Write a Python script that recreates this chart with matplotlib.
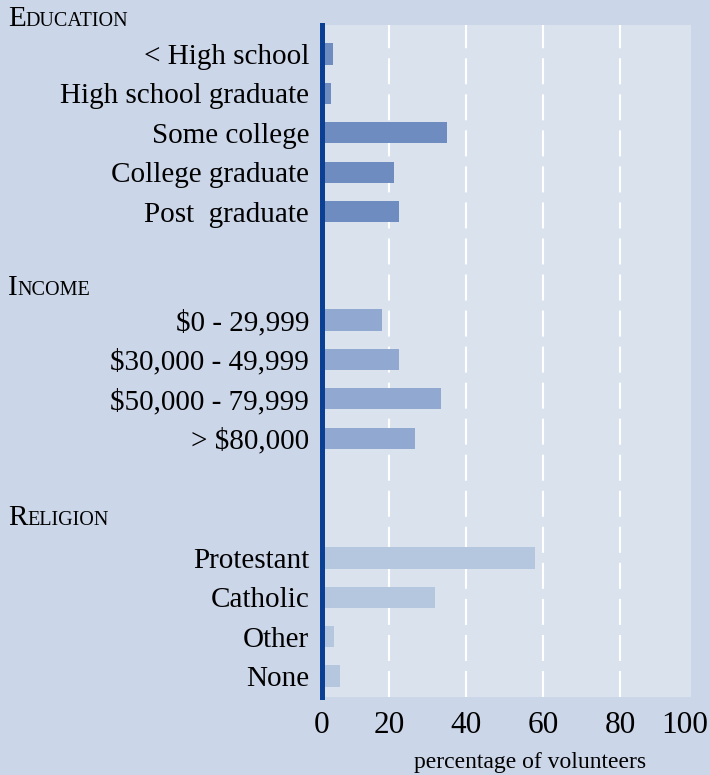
import matplotlib.pyplot as plt
import matplotlib.transforms as mtransforms
import numpy as np

# data
edu_labels = ['< High school', 'High school graduate', 'Some college', 'College graduate', 'Post  graduate']
edu_values = [5.4, 4.8, 35.0, 21.2, 22.5]
inc_labels = ['$0 - 29,999', '$30,000 - 49,999', '$50,000 - 79,999', '> $80,000']
inc_values = [18.1, 22.5, 33.4, 26.7]
rel_labels = ['Protestant', 'Catholic', 'Other', 'None']
rel_values = [57.9, 31.9, 5.6, 7.2]
headers = ['Education', 'Income', 'Religion']
grid_x = [20, 40, 60, 80]
tick_text = ['0', '20', '40', '60', '80', '100']

bg_out = '#ccd6e9'
bg_in = '#dae2ee'
colors = ['#6e8cc0', '#91a8d0', '#b5c6df']
spine_col = '#0b3f94'

plt.rcParams['font.family'] = ['Liberation Serif', 'DejaVu Serif']

fig = plt.figure(figsize=(7.1, 7.75), dpi=100, facecolor=bg_out)
ax = fig.add_axes([321.7 / 710, 78 / 775, 369 / 710, 672 / 775])
ax.set_facecolor(bg_in)

# y positions: one unit per row, gaps between groups
groups = [(edu_labels, edu_values), (inc_labels, inc_values), (rel_labels, rel_values)]
gaps = [0, 2.75, 3.04]
starts = []
ypos, ylabels = [], []
y = 0
for (labs, vals), g in zip(groups, gaps):
    y += g
    starts.append(y)
    ys = y + np.arange(len(labs))
    ypos.extend(ys)
    ylabels.extend(labs)
    y = ys[-1]

for (labs, vals), s, c in zip(groups, starts, colors):
    ys = s + np.arange(len(labs))
    ax.barh(ys, vals, height=0.54, color=c, zorder=2)

for xv in grid_x:
    ax.axvline(xv, color='white', lw=1.5, linestyle=(0, (12.5, 4.8)), zorder=1)

# the drawn panel is a bit narrower than 0-100 in the original
ax.set_xlim(2.42, 98.4)
ax.set_ylim(16.32, -0.736)
ax.set_yticks(ypos)
ax.set_yticklabels(ylabels, fontsize=21)
lo, hi = ax.get_xlim()
ax.set_xticks([lo] + grid_x + [hi])
ax.set_xticklabels(tick_text, fontsize=22.5)
ax.tick_params(axis='y', length=0, pad=9)
ax.tick_params(axis='x', length=0, pad=10)

# last tick label sits a little inside the edge
lbl = ax.get_xticklabels()[-1]
lbl.set_transform(lbl.get_transform() + mtransforms.ScaledTranslation(-6 / 100, 0, fig.dpi_scale_trans))

for side in ['top', 'right', 'bottom']:
    ax.spines[side].set_visible(False)
ax.spines['left'].set_color(spine_col)
ax.spines['left'].set_linewidth(3.6)
ax.spines['left'].set_zorder(3)

ax.set_xlabel('percentage of volunteers', fontsize=17)
ax.xaxis.set_label_coords(0.564, -0.082)

# small-caps group headers
head_y = [-0.71, 6.12, 11.95]
fig.canvas.draw()
r = fig.canvas.get_renderer()
trans = mtransforms.blended_transform_factory(fig.transFigure, ax.transData)
for h, hy in zip(headers, head_y):
    t1 = fig.text(8 / 710, hy, h[0], fontsize=21, va='baseline', ha='left', transform=trans)
    bb = t1.get_window_extent(renderer=r)
    fig.text(bb.x1 / 710, hy, h[1:].upper(), fontsize=14.5, va='baseline', ha='left', transform=trans)

fig.savefig('out.png', dpi=100, facecolor=bg_out)
